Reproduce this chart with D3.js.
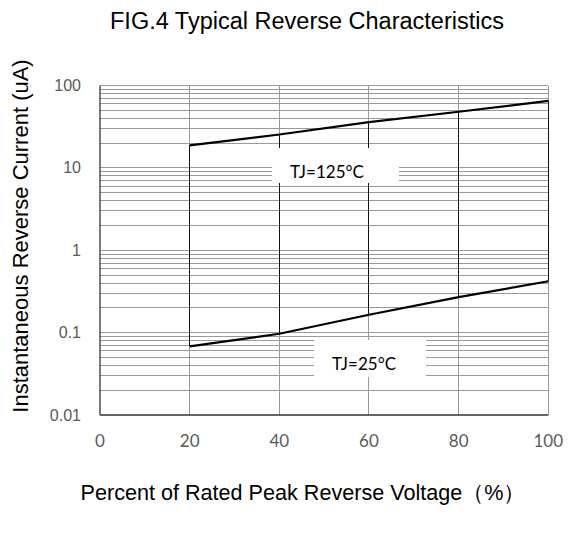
<!DOCTYPE html>
<html lang="en">
<head>
<meta charset="UTF-8">
<title>FIG.4 Typical Reverse Characteristics</title>
<script src="https://d3js.org/d3.v7.min.js"></script>
<style>
    body, html { margin: 0; padding: 0; background: #fff; overflow: hidden; }
    svg { display: block; }
    .title { font-family: "Liberation Sans", Arial, sans-serif; fill: #000; }
    .ytick { font: 16px "Liberation Sans", Arial, sans-serif; fill: #595959; }
    .xtick { font: 17px Lato, "Open Sans", sans-serif; fill: #595959; }
    .tj { font: 17px Lato, "Open Sans", sans-serif; fill: #000; }
    .grid line { shape-rendering: crispEdges; }
</style>
</head>
<body>
<svg width="569" height="535"></svg>
<script>
    // values
    const xTicks = [0, 20, 40, 60, 80, 100];
    const yTicks = [0.01, 0.1, 1, 10, 100];
    const voltage = [20, 40, 60, 80, 100];
    const ir125 = [18.8, 25.4, 36, 48, 65];
    const ir25 = [0.068, 0.097, 0.165, 0.27, 0.42];
    const labels = ['TJ=125°C', 'TJ=25°C'];

    const width = 569, height = 535;
    const margin = { top: 85.5, right: 20.7, bottom: 120, left: 100 };

    const svg = d3.select('svg');

    const x = d3.scaleLinear().domain([0, 100]).range([margin.left, width - margin.right]);
    const y = d3.scaleLog().domain([0.01, 100]).range([height - margin.bottom, margin.top]);

    // horizontal log grid, 1..9 per decade
    const hLines = [];
    yTicks.forEach(function (d) {
        if (d === 100) { hLines.push(d); return; }
        for (let k = 1; k < 10; k++) hLines.push(d * k);
    });

    svg.append('g')
        .attr('class', 'grid')
        .selectAll('line')
        .data(hLines.filter(d => d > 0.0100001))
        .enter().append('line')
        .attr('x1', x(0)).attr('x2', x(100))
        .attr('y1', d => y(d)).attr('y2', d => y(d))
        .attr('stroke', '#999').attr('stroke-width', 1);

    // vertical grid
    svg.append('g')
        .attr('class', 'grid')
        .selectAll('line')
        .data(xTicks.slice(1))
        .enter().append('line')
        .attr('x1', d => x(d)).attr('x2', d => x(d))
        .attr('y1', y(100)).attr('y2', y(0.01))
        .attr('stroke', '#999').attr('stroke-width', 1);

    // high-low lines between the two series
    svg.append('g')
        .attr('class', 'grid')
        .selectAll('line')
        .data(voltage)
        .enter().append('line')
        .attr('x1', d => x(d)).attr('x2', d => x(d))
        .attr('y1', (d, i) => y(ir125[i])).attr('y2', (d, i) => y(ir25[i]))
        .attr('stroke', '#111').attr('stroke-width', 1);

    // label boxes
    const boxes = [
        { text: labels[0], x0: 272, x1: 399, y0: 148, y1: 183, base: 177.5 },
        { text: labels[1], x0: 314, x1: 426, y0: 340, y1: 377, base: 370 }
    ];
    const lab = svg.append('g').selectAll('g').data(boxes).enter().append('g');
    lab.append('rect')
        .attr('x', d => d.x0).attr('y', d => d.y0)
        .attr('width', d => d.x1 - d.x0).attr('height', d => d.y1 - d.y0)
        .attr('fill', '#fff');
    lab.append('text')
        .attr('class', 'tj')
        .attr('x', d => d.x0 + 18).attr('y', d => d.base)
        .text(d => d.text);

    // axes lines
    svg.append('line')
        .attr('x1', x(0)).attr('x2', x(0))
        .attr('y1', y(100)).attr('y2', y(0.01))
        .attr('stroke', '#333').attr('stroke-width', 1.3);
    svg.append('line')
        .attr('x1', x(0)).attr('x2', x(100))
        .attr('y1', y(0.01)).attr('y2', y(0.01))
        .attr('stroke', '#333').attr('stroke-width', 1.3);

    // series
    const line = d3.line().x(d => x(d[0])).y(d => y(d[1]));
    [ir125, ir25].forEach(function (s) {
        svg.append('path')
            .datum(voltage.map((v, i) => [v, s[i]]))
            .attr('d', line)
            .attr('fill', 'none')
            .attr('stroke', '#000')
            .attr('stroke-width', 2.2);
    });

    // tick labels
    svg.append('g')
        .selectAll('text')
        .data(yTicks)
        .enter().append('text')
        .attr('class', 'ytick')
        .attr('x', 81)
        .attr('y', d => y(d))
        .attr('dy', '0.35em')
        .attr('text-anchor', 'end')
        .text(d => String(d));

    svg.append('g')
        .selectAll('text')
        .data(xTicks)
        .enter().append('text')
        .attr('class', 'xtick')
        .attr('x', d => x(d))
        .attr('y', 447)
        .attr('text-anchor', 'middle')
        .text(d => d);

    // titles
    svg.append('text')
        .attr('class', 'title')
        .attr('font-size', 23.5)
        .attr('x', 307).attr('y', 29)
        .attr('text-anchor', 'middle')
        .text('FIG.4 Typical Reverse Characteristics');

    svg.append('text')
        .attr('class', 'title')
        .attr('font-size', 22)
        .attr('transform', 'translate(28,236) rotate(-90)')
        .attr('text-anchor', 'middle')
        .text('Instantaneous Reverse Current (uA)');

    svg.append('text')
        .attr('class', 'title')
        .attr('font-size', 21.6)
        .attr('x', 303).attr('y', 500)
        .attr('text-anchor', 'middle')
        .text('Percent of Rated Peak Reverse Voltage（%）');
</script>
</body>
</html>
